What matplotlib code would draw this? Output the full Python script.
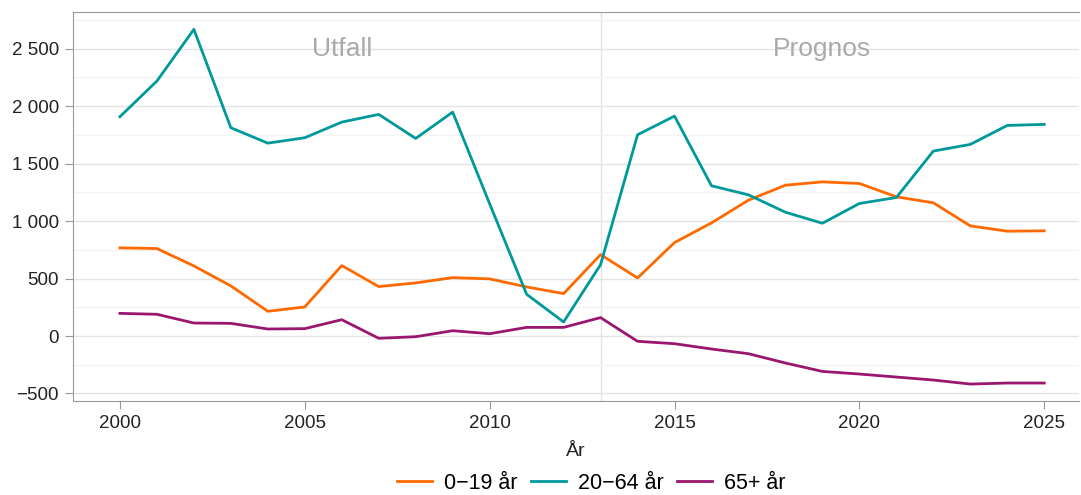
#!/usr/bin/env python3

import matplotlib
matplotlib.use("Agg")
import matplotlib.pyplot as plt
from matplotlib.ticker import FuncFormatter, MultipleLocator

# data
years = list(range(2000, 2026))
age_0_19 = [767, 761, 610, 436, 215, 253, 613, 430, 462, 508, 497, 427, 369, 708,
            505, 813, 984, 1182, 1312, 1341, 1327, 1211, 1159, 958, 912, 915]
age_20_64 = [1908, 2218, 2668, 1812, 1678, 1725, 1861, 1928, 1719, 1948, 1150, 363, 122, 621,
             1751, 1913, 1307, 1228, 1077, 981, 1153, 1205, 1609, 1667, 1832, 1841]
age_65 = [197, 189, 113, 110, 61, 64, 142, -20, -6, 46, 20, 75, 75, 160,
          -46, -67, -113, -154, -235, -308, -331, -357, -383, -418, -409, -409]
series_names = ["0\u221219 år", "20\u221264 år", "65+ år"]
colors = ["#ff6a00", "#00999a", "#99176e"]
split_year = 2013

plt.rcParams['font.family'] = ['Liberation Sans', 'DejaVu Sans']

fig = plt.figure(figsize=(10.81, 4.95), dpi=100)
ax = fig.add_axes([0.0675, 0.19, 0.931, 0.786])

for vals, name, col in zip([age_0_19, age_20_64, age_65], series_names, colors):
    ax.plot(years, vals, color=col, lw=2, label=name, zorder=3)

ax.set_xlim(1998.73, 2025.95)
ax.set_ylim(-565, 2820)

ax.yaxis.set_major_locator(MultipleLocator(500))
ax.yaxis.set_minor_locator(MultipleLocator(250))
ax.xaxis.set_major_locator(MultipleLocator(5))

def fmt(v, pos):
    s = f"{abs(int(v)):,}".replace(",", " ")
    return ("\u2212" + s) if v < 0 else s

ax.yaxis.set_major_formatter(FuncFormatter(fmt))

ax.grid(True, which="major", axis="y", color="#e4e4e4", lw=1, zorder=0)
ax.grid(True, which="minor", axis="y", color="#f3f3f3", lw=1, zorder=0)
ax.axvline(split_year, color="#e4e4e4", lw=1, zorder=1)

for s in ax.spines.values():
    s.set_color("#999999")
ax.spines["right"].set_visible(False)

ax.tick_params(axis="both", which="major", labelsize=13.5, colors="#999999",
               labelcolor="#222222", length=6, pad=4)
ax.tick_params(axis="y", which="minor", length=0)

ax.text(2006, 2500, "Utfall", fontsize=19, color="#aaaaaa", ha="center", va="center")
ax.text(2019, 2500, "Prognos", fontsize=19, color="#aaaaaa", ha="center", va="center")

ax.set_xlabel("År", fontsize=14, color="#222222", labelpad=8)

fig.legend(loc="lower center", ncol=3, frameon=False, fontsize=15.5,
           bbox_to_anchor=(0.547, -0.037), handlelength=1.65, columnspacing=0.6,
           handletextpad=0.55, borderaxespad=0.5)

fig.savefig("out.png", dpi=100)
